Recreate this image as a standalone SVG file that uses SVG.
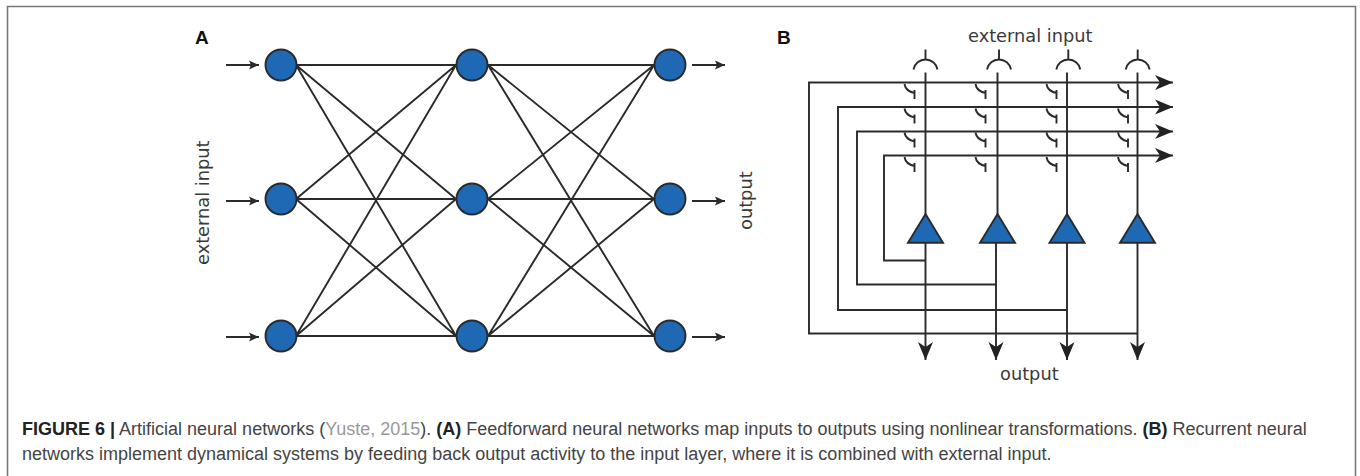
<svg xmlns="http://www.w3.org/2000/svg" width="1360" height="476" viewBox="0 0 1360 476">
<style>
.l{fill:none;stroke:#2a2a2a;stroke-width:1.900}
.n{fill:#1f68b3;stroke:#2a2a2a;stroke-width:1.900}
.t{font-family:"DejaVu Sans",sans-serif;font-size:17.800px;fill:#3a3a3a}
.h{font-family:"Liberation Sans",Arial,sans-serif;font-size:19px;font-weight:bold;fill:#111}
.c{font-family:"Liberation Sans",Arial,sans-serif;font-size:18px;fill:#444}
</style>
<defs>
<marker id="a" markerUnits="userSpaceOnUse" markerWidth="12" markerHeight="10" refX="10" refY="5" orient="auto"><path d="M0,0.500 L10,5 L0,9.500 L2,5Z" fill="#2a2a2a"/></marker>
<marker id="b" markerUnits="userSpaceOnUse" markerWidth="20" markerHeight="18" refX="18" refY="9" orient="auto"><path d="M0,1.500 L18,9 L0,16.500 L5,9Z" fill="#222"/></marker>
<g id="hk"><path class="l" d="M0,0 Q1,7 10,9 M10,6 V15"/></g>
<g id="syn"><path class="l" d="M-12,10 A12.200,12.200 0 0 1 12,10 M0,-10 V0"/></g>
</defs>
<path id="frame" d="M7.500,476 V6.500 H1355.500 V476" fill="none" stroke="#777" stroke-width="1.600"/>
<g id="connectors">
<path class="l" d="M296,65H456M296,65L456,199M296,65L456,336M296,199L456,65M296,199H456M296,199L456,336M296,336L456,65M296,336L456,199M296,336H456"/>
<path class="l" d="M488,65H654M488,65L654,199M488,65L654,336M488,199L654,65M488,199H654M488,199L654,336M488,336L654,65M488,336L654,199M488,336H654"/>
<path class="l" marker-end="url(#a)" d="M226,65H259"/>
<path class="l" marker-end="url(#a)" d="M226,201H259"/>
<path class="l" marker-end="url(#a)" d="M226,337H259"/>
<path class="l" marker-end="url(#a)" d="M692,65H725"/>
<path class="l" marker-end="url(#a)" d="M692,201H725"/>
<path class="l" marker-end="url(#a)" d="M692,337H725"/>
<path class="l" marker-end="url(#b)" d="M1137.500,333.500H809V82.500H1173"/>
<path class="l" marker-end="url(#b)" d="M1067,310H838V107H1173"/>
<path class="l" marker-end="url(#b)" d="M996,284.500H857V131.500H1173"/>
<path class="l" marker-end="url(#b)" d="M925.500,260.500H884V155.500H1173"/>
<path class="l" marker-end="url(#b)" d="M925.500,72.500V360"/>
<path class="l" d="M997.500,72.500V215"/>
<path class="l" marker-end="url(#b)" d="M996,242V360"/>
<path class="l" marker-end="url(#b)" d="M1067,72.500V360"/>
<path class="l" marker-end="url(#b)" d="M1137.500,72.500V360"/>
<use href="#syn" x="925.500" y="59.500"/><use href="#syn" x="999" y="59.500"/><use href="#syn" x="1068.300" y="59.500"/><use href="#syn" x="1137.700" y="59.500"/>
<use href="#hk" x="904.500" y="84"/><use href="#hk" x="975.500" y="84"/><use href="#hk" x="1046.500" y="84"/><use href="#hk" x="1118" y="84"/>
<use href="#hk" x="904.500" y="108.500"/><use href="#hk" x="975.500" y="108.500"/><use href="#hk" x="1046.500" y="108.500"/><use href="#hk" x="1118" y="108.500"/>
<use href="#hk" x="904.500" y="132.500"/><use href="#hk" x="975.500" y="132.500"/><use href="#hk" x="1046.500" y="132.500"/><use href="#hk" x="1118" y="132.500"/>
<use href="#hk" x="904.500" y="157"/><use href="#hk" x="975.500" y="157"/><use href="#hk" x="1046.500" y="157"/><use href="#hk" x="1118" y="157"/>
</g>
<g id="a1"><circle class="n" cx="281" cy="65" r="15.500"/></g>
<g id="a2"><circle class="n" cx="281" cy="199" r="15.500"/></g>
<g id="a3"><circle class="n" cx="281" cy="336" r="15.500"/></g>
<g id="a4"><circle class="n" cx="472" cy="65" r="15.500"/></g>
<g id="a5"><circle class="n" cx="472" cy="199" r="15.500"/></g>
<g id="a6"><circle class="n" cx="472" cy="336" r="15.500"/></g>
<g id="a7"><circle class="n" cx="670" cy="65" r="15.500"/></g>
<g id="a8"><circle class="n" cx="670" cy="199" r="15.500"/></g>
<g id="a9"><circle class="n" cx="670" cy="336" r="15.500"/></g>
<g id="b1"><path class="n" d="M925.500,214L943,242.800H908Z"/></g>
<g id="b2"><path class="n" d="M997.500,214L1015,242.800H980Z"/></g>
<g id="b3"><path class="n" d="M1067,214L1084.500,242.800H1049.500Z"/></g>
<g id="b4"><path class="n" d="M1137.500,214L1155,242.800H1120Z"/></g>
<g id="labels">
<text class="h" x="195" y="43.500">A</text>
<text class="h" x="777" y="43.500">B</text>
<text class="t" x="968" y="41.500">external input</text>
<text class="t" x="1000" y="380">output</text>
<text class="t" transform="translate(209,265) rotate(-90)">external input</text>
<text class="t" transform="translate(752,230) rotate(-90)">output</text>
<text class="c" x="22" y="434.500"><tspan font-weight="bold" fill="#222">FIGURE 6 |</tspan> Artificial neural networks (<tspan fill="#999">Yuste, 2015</tspan>). <tspan font-weight="bold" fill="#222">(A)</tspan> Feedforward neural networks map inputs to outputs using nonlinear transformations. <tspan font-weight="bold" fill="#222">(B)</tspan> Recurrent neural</text>
<text class="c" x="22" y="460">networks implement dynamical systems by feeding back output activity to the input layer, where it is combined with external input.</text>
</g>
</svg>
